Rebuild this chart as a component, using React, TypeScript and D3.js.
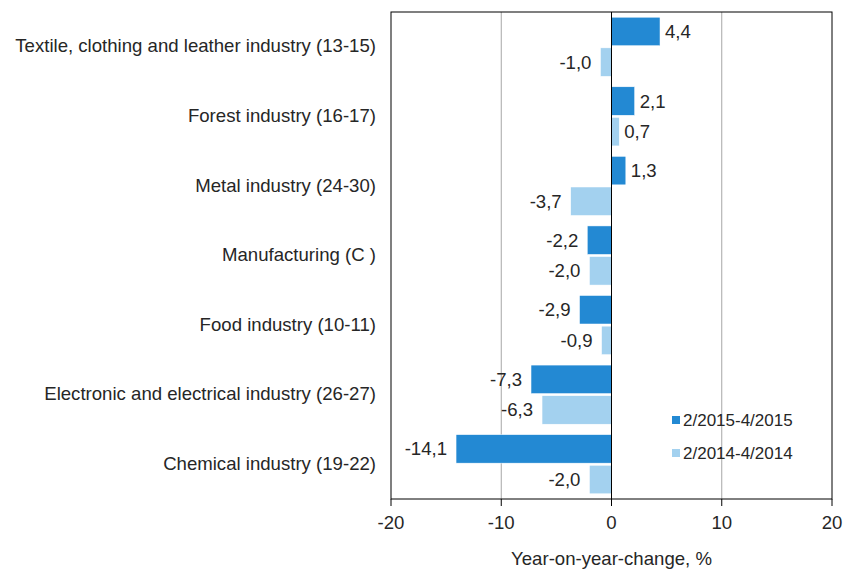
import React from 'react'
import * as d3 from 'd3'

const categories = [
  'Textile, clothing and leather industry (13-15)',
  'Forest industry (16-17)',
  'Metal industry (24-30)',
  'Manufacturing (C )',
  'Food industry (10-11)',
  'Electronic and electrical industry (26-27)',
  'Chemical industry (19-22)'
]
const series2015 = [4.4, 2.1, 1.3, -2.2, -2.9, -7.3, -14.1]
const series2014 = [-1.0, 0.7, -3.7, -2.0, -0.9, -6.3, -2.0]
const seriesNames = ['2/2015-4/2015', '2/2014-4/2014']
const xTicks = [-20, -10, 0, 10, 20]

const width = 843
const height = 569
const margin = { top: 12, right: 11, bottom: 70, left: 391 }
const colors = ['#2389D3', '#A3D1EF']
const font = 'Arial, "Liberation Sans", sans-serif'
const fs = 18.6

const App = () => {
  const plotW = width - margin.left - margin.right
  const plotH = height - margin.top - margin.bottom

  const x = d3.scaleLinear().domain([-20, 20]).range([0, plotW])
  const y = d3.scaleBand().domain(categories).range([0, plotH]).paddingInner(0.15).paddingOuter(0.075)
  const inner = d3.scaleBand().domain(['0', '1']).range([0, y.bandwidth()]).paddingInner(0.07)

  const fmt = (v) => d3.format('.1f')(v).replace('.', ',').replace('−', '-')

  const allSeries = [series2015, series2014]

  return (
    <svg width={width} height={height} style={{ display: 'block', position: 'absolute', left: 0, top: 0 }}>
      <g transform={`translate(${margin.left},${margin.top})`} fontFamily={font} fill="#262626">
        {xTicks.map(t => (
          <g key={t}>
            {t !== 0 && Math.abs(t) !== 20 && (
              <line x1={x(t)} x2={x(t)} y1={0} y2={plotH} stroke="#a6a6a6" strokeWidth={1} />
            )}
            <line x1={x(t)} x2={x(t)} y1={plotH} y2={plotH + 7} stroke="#000" strokeWidth={1} />
            <text x={x(t)} y={plotH + 30} textAnchor="middle" fontSize={fs}>
              {t}
            </text>
          </g>
        ))}

        {categories.map((c, i) => (
          <g key={c}>
            {allSeries.map((s, k) => {
              const v = s[i]
              const by = y(c) + inner(String(k))
              const bh = inner.bandwidth()
              const x0 = x(Math.min(0, v))
              const x1 = x(Math.max(0, v))
              return (
                <g key={k}>
                  <rect x={x0} y={by} width={x1 - x0} height={bh} fill={colors[k]} stroke="#fff" strokeWidth={0.5} />
                  <text
                    x={v >= 0 ? x1 + 5 : x0 - 9}
                    y={by + bh / 2}
                    dy="0.35em"
                    textAnchor={v >= 0 ? 'start' : 'end'}
                    fontSize={fs}
                  >
                    {fmt(v)}
                  </text>
                </g>
              )
            })}
            <text x={-15} y={y(c) + y.bandwidth() / 2} dy="0.3em" textAnchor="end" fontSize={fs}>
              {c}
            </text>
          </g>
        ))}

        <line x1={x(0)} x2={x(0)} y1={0} y2={plotH} stroke="#000" strokeWidth={1} />
        <rect x={0} y={0} width={plotW} height={plotH} fill="none" stroke="#000" strokeWidth={1} />

        {seriesNames.map((n, k) => (
          <g key={n} transform={`translate(${281},${408 + k * 33})`}>
            <rect x={0} y={-4} width={8} height={8} fill={colors[k]} />
            <text x={11} y={0} dy="0.35em" fontSize={17}>
              {n}
            </text>
          </g>
        ))}

        <text x={x(0)} y={plotH + 66} textAnchor="middle" fontSize={fs}>
          Year-on-year-change, %
        </text>
      </g>
    </svg>
  )
}

export default App
